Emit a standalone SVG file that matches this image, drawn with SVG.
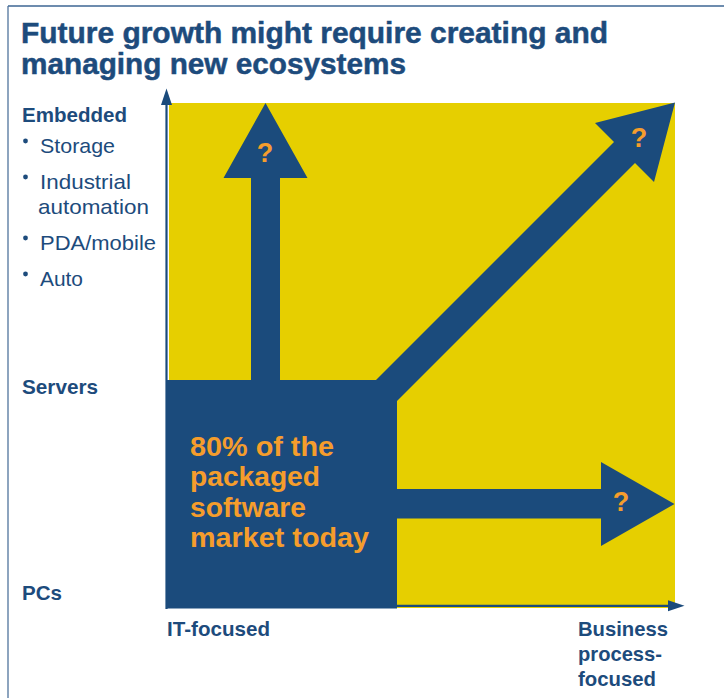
<svg xmlns="http://www.w3.org/2000/svg" width="724" height="698" viewBox="0 0 724 698">
  <defs>
    <style>
      .title { font-family: "Liberation Sans", Arial, sans-serif; font-weight: bold; font-size: 30px; fill: #1d4b7c; stroke: #1d4b7c; stroke-width: 0.5px; }
      .lbl { font-family: "Liberation Sans", Arial, sans-serif; font-weight: bold; font-size: 21px; fill: #1d4b7c; }
      .item { font-family: "Liberation Sans", Arial, sans-serif; font-size: 21px; fill: #1d4b7c; }
      .big { font-family: "Liberation Sans", Arial, sans-serif; font-weight: bold; font-size: 28px; fill: #f59d2c; }
      .q { font-family: "Liberation Sans", Arial, sans-serif; font-weight: bold; font-size: 27px; fill: #f59d2c; text-anchor: middle; }
      .shape { fill: #1b4b7c; }
      .axis { stroke: #1b4b7c; stroke-width: 2.2; fill: none; }
      .dot { fill: #1d4b7c; }
    </style>
    <marker id="axisHead" markerUnits="userSpaceOnUse" markerWidth="17" markerHeight="12" refX="0" refY="6" orient="auto">
      <path d="M0,0.5 L16.5,6 L0,11.5 z" fill="#1b4b7c"/>
    </marker>
  </defs>

  <!-- page frame -->
  <g id="frame">
    <line x1="8" y1="6" x2="724" y2="6" stroke="#6d8cae" stroke-width="2"/>
    <line x1="8" y1="6" x2="8" y2="698" stroke="#50739c" stroke-width="1.3"/>
  </g>

  <!-- heading -->
  <g id="title">
    <text class="title" x="21" y="43" textLength="587" lengthAdjust="spacingAndGlyphs">Future growth might require creating and</text>
    <text class="title" x="21" y="74" textLength="385" lengthAdjust="spacingAndGlyphs">managing new ecosystems</text>
  </g>

  <!-- plot area -->
  <g id="quadrant">
    <rect x="169" y="103" width="506" height="505" fill="#e6cf00"/>
  </g>

  <!-- growth arrows and axes -->
  <g id="connectors">
    <polygon id="arrow-up" class="shape" points="251,390 251,178 223.5,178 265.5,103 307.5,178 280,178 280,390"/>
    <polygon id="arrow-diagonal" class="shape" points="366,390 614,142 595,123 675,102.5 654,182 635,163 390,408"/>
    <polygon id="arrow-right" class="shape" points="390,489 601,489 601,462 674.5,504 601,546 601,518.5 390,518.5"/>
    <line id="y-axis" class="axis" x1="166.5" y1="609" x2="166.5" y2="105" marker-end="url(#axisHead)"/>
    <line id="x-axis" class="axis" x1="166" y1="605.8" x2="668" y2="605.8" marker-end="url(#axisHead)"/>
  </g>

  <!-- current market block -->
  <g id="market-today">
    <rect class="shape" x="166" y="380" width="231" height="228.5"/>
    <text class="big" x="190" y="456" textLength="144" lengthAdjust="spacingAndGlyphs">80% of the</text>
    <text class="big" x="190" y="486" textLength="130" lengthAdjust="spacingAndGlyphs">packaged</text>
    <text class="big" x="190" y="516.5" textLength="116" lengthAdjust="spacingAndGlyphs">software</text>
    <text class="big" x="190" y="547" textLength="179" lengthAdjust="spacingAndGlyphs">market today</text>
  </g>

  <!-- unknown destinations -->
  <g id="unknowns">
    <text class="q" x="265" y="162">?</text>
    <text class="q" x="639" y="147">?</text>
    <text class="q" x="621" y="511">?</text>
  </g>

  <!-- vertical axis labels -->
  <g id="y-labels">
    <text class="lbl" x="22" y="121.5" textLength="105" lengthAdjust="spacingAndGlyphs">Embedded</text>
    <circle class="dot" cx="25.5" cy="141" r="2.4"/>
    <text class="item" x="40" y="153" textLength="75" lengthAdjust="spacingAndGlyphs">Storage</text>
    <circle class="dot" cx="25.5" cy="177" r="2.4"/>
    <text class="item" x="40" y="189" textLength="91" lengthAdjust="spacingAndGlyphs">Industrial</text>
    <text class="item" x="38" y="214" textLength="111" lengthAdjust="spacingAndGlyphs">automation</text>
    <circle class="dot" cx="25.5" cy="238" r="2.4"/>
    <text class="item" x="40" y="250" textLength="116" lengthAdjust="spacingAndGlyphs">PDA/mobile</text>
    <circle class="dot" cx="25.5" cy="274" r="2.4"/>
    <text class="item" x="40" y="286" textLength="43" lengthAdjust="spacingAndGlyphs">Auto</text>
    <text class="lbl" x="22" y="394" textLength="76" lengthAdjust="spacingAndGlyphs">Servers</text>
    <text class="lbl" x="22" y="600" textLength="40" lengthAdjust="spacingAndGlyphs">PCs</text>
  </g>

  <!-- horizontal axis labels -->
  <g id="x-labels">
    <text class="lbl" x="167" y="636" textLength="103" lengthAdjust="spacingAndGlyphs">IT-focused</text>
    <text class="lbl" x="578" y="636" textLength="90" lengthAdjust="spacingAndGlyphs">Business</text>
    <text class="lbl" x="578" y="661" textLength="84" lengthAdjust="spacingAndGlyphs">process-</text>
    <text class="lbl" x="578" y="686" textLength="78" lengthAdjust="spacingAndGlyphs">focused</text>
  </g>
</svg>
